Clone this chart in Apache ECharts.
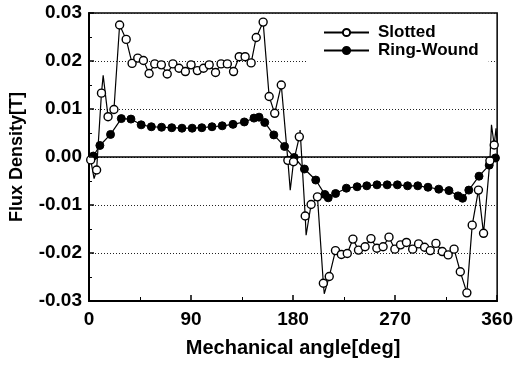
<!DOCTYPE html>
<html>
<head>
<meta charset="utf-8">
<script src="https://cdn.jsdelivr.net/npm/echarts@6/dist/echarts.min.js"></script>
<style>
  html, body { margin: 0; padding: 0; background: #fff; }
  #chart { width: 516px; height: 365px; }
</style>
</head>
<body>
<div id="chart"></div>
<script>
// Slotted: points drawn with a marker
const slottedAngle = [1.5, 6.7, 11, 16.8, 22, 27, 32.8, 38, 43, 48, 53, 58, 63.8, 69, 74, 79.4, 85, 90, 95.6, 101,
  106, 111.6, 116.5, 122, 127.5, 132.5, 137.7, 143, 147.5, 153.6, 158.9, 163.8, 169.6, 175.4, 180.4, 185.5, 190.7,
  195.9, 201.5, 206.7, 211.9, 217.4, 222.6, 227.8, 232.8, 237.7, 243.5, 248.7, 253.9, 259.4, 264.6, 269.8, 274.8,
  280, 285.5, 290.7, 296, 301, 306, 311.6, 316.8, 322, 327.5, 333.3, 338, 343.5, 348, 353.6, 357.4]
const slottedFlux = [-0.0006, -0.0027, 0.0133, 0.0084, 0.0099, 0.0275, 0.0245, 0.0195, 0.0206, 0.0201, 0.0174, 0.0194,
  0.0192, 0.0173, 0.0194, 0.0185, 0.0178, 0.0192, 0.018, 0.0185, 0.0192, 0.0176, 0.0194, 0.0194, 0.0178, 0.0209,
  0.0209, 0.0196, 0.0249, 0.0281, 0.0126, 0.0091, 0.015, -0.0007, -0.001, 0.0042, -0.0123, -0.0099, -0.0083, -0.0263,
  -0.0249, -0.0195, -0.0203, -0.0201, -0.0171, -0.0194, -0.0187, -0.017, -0.019, -0.0187, -0.0167, -0.0192, -0.0183,
  -0.0178, -0.0192, -0.0181, -0.0188, -0.0195, -0.018, -0.0197, -0.0204, -0.0192, -0.0239, -0.0283, -0.0142, -0.0069,
  -0.0159, -0.0008, 0.0025]
// Slotted: extra line vertices without marker (spikes)
const slottedSpikeAngle = [0, 4.5, 12.5, 177.5, 186.2, 191.5, 207.5, 355, 359, 360]
const slottedSpikeFlux = [0, -0.0045, 0.017, -0.0069, 0.0056, -0.0163, -0.0285, 0.0067, 0.006, 0.003]

// Ring-Wound
const ringAngle = [3.8, 9.6, 19, 28.5, 37, 46, 55, 64, 73, 82, 91, 99.5, 108.5, 117.5, 127, 137, 145.5, 150, 155, 163,
  172.5, 181, 190, 200, 208, 211, 217.5, 227, 236.5, 245, 254, 263, 272, 281, 290, 299, 308.5, 317.5, 325.5, 329.5,
  335, 344, 353, 358.5]
const ringFlux = [0.0002, 0.0024, 0.0047, 0.008, 0.0079, 0.0067, 0.0063, 0.0062, 0.0061, 0.006, 0.006, 0.0061, 0.0063,
  0.0065, 0.0068, 0.0073, 0.0081, 0.0083, 0.0072, 0.0046, 0.0022, -0.0001, -0.0025, -0.0048, -0.0078, -0.0085,
  -0.0076, -0.0065, -0.0062, -0.006, -0.0058, -0.0058, -0.0058, -0.006, -0.006, -0.0063, -0.0067, -0.007, -0.0081,
  -0.0086, -0.0069, -0.004, -0.0017, -0.0002]

const font = 'Liberation Sans, Arial, sans-serif'

function build(angle, flux, spikeAngle, spikeFlux) {
  let arr = []
  angle.forEach((a, i) => arr.push({ value: [a, flux[i]] }))
  spikeAngle.forEach((a, i) => arr.push({ value: [a, spikeFlux[i]], symbol: 'none' }))
  arr.sort((p, q) => p.value[0] - q.value[0])
  return arr
}

let myChart = echarts.init(document.getElementById('chart'))
myChart.setOption({
  animation: false,
  grid: {
    left: 89, right: 13, top: 13, bottom: 64,
    show: true, borderColor: '#000', borderWidth: 1.5
  },
  legend: {
    orient: 'vertical',
    left: 308, top: 19,
    itemWidth: 45, itemHeight: 9, itemGap: 1,
    padding: [5, 10, 5, 15],
    backgroundColor: '#fff',
    textStyle: { fontFamily: font, fontSize: 17, fontWeight: 'bold', color: '#000', padding: [0, 0, 0, 4] },
    data: ['Slotted', 'Ring-Wound']
  },
  xAxis: {
    type: 'value',
    min: 0, max: 360, interval: 90,
    name: 'Mechanical angle[deg]',
    nameLocation: 'middle', nameGap: 37,
    nameTextStyle: { fontFamily: font, fontSize: 20, fontWeight: 'bold', color: '#000' },
    axisLine: { onZero: false, lineStyle: { color: '#000', width: 2 } },
    axisTick: { inside: true, length: 6, lineStyle: { color: '#000', width: 1.5 } },
    minorTick: { show: true, splitNumber: 2, length: 4, lineStyle: { color: '#000', width: 1 } },
    axisLabel: { fontFamily: font, fontSize: 19, fontWeight: 'bold', color: '#000', margin: 9 },
    splitLine: { show: false }
  },
  yAxis: {
    type: 'value',
    min: -0.03, max: 0.03, interval: 0.01,
    name: 'Flux Density[T]',
    nameLocation: 'middle', nameGap: 63,
    nameTextStyle: { fontFamily: font, fontSize: 18, fontWeight: 'bold', color: '#000' },
    axisLine: { lineStyle: { color: '#000', width: 2 } },
    axisTick: { inside: true, length: 5, lineStyle: { color: '#000', width: 1.5 } },
    minorTick: { show: true, splitNumber: 2, length: 3, lineStyle: { color: '#000', width: 1 } },
    axisLabel: {
      fontFamily: font, fontSize: 19, fontWeight: 'bold', color: '#000', margin: 7,
      formatter: function (v) { return v.toFixed(2) }
    },
    splitLine: { show: true, lineStyle: { color: '#222', width: 1, type: [1, 2] } }
  },
  series: [
    {
      name: 'Slotted',
      type: 'line',
      data: build(slottedAngle, slottedFlux, slottedSpikeAngle, slottedSpikeFlux),
      symbol: 'circle',
      symbolSize: 8,
      showAllSymbol: true,
      itemStyle: { color: '#fff', borderColor: '#000', borderWidth: 1.4 },
      lineStyle: { color: '#000', width: 1.2 },
      z: 3,
      markLine: {
        silent: true, symbol: 'none', label: { show: false },
        lineStyle: { color: '#000', width: 1.5, type: 'solid' },
        data: [{ yAxis: 0 }]
      }
    },
    {
      name: 'Ring-Wound',
      type: 'line',
      data: build(ringAngle, ringFlux, [0], [-0.0003]),
      symbol: 'circle',
      symbolSize: 8,
      showAllSymbol: true,
      itemStyle: { color: '#000', borderColor: '#000', borderWidth: 1 },
      lineStyle: { color: '#000', width: 1.2 },
      z: 2
    }
  ]
})
</script>
</body>
</html>
